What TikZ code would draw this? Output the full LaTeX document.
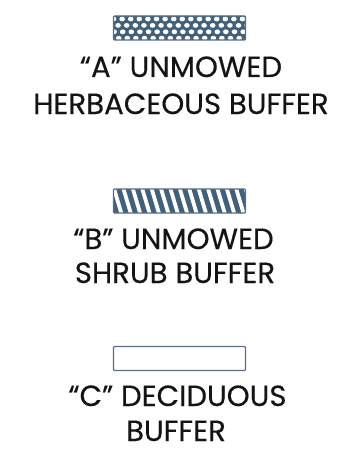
\documentclass[tikz,border=0pt]{standalone}
\usepackage{fontspec}
\setmainfont[FakeBold=0.3]{Poppins}
\usetikzlibrary{calc}
\definecolor{swfill}{RGB}{66,96,122}
\definecolor{swedge}{RGB}{90,110,130}
\definecolor{txt}{RGB}{20,20,20}
\begin{document}
\begin{tikzpicture}[x=1pt,y=-1pt,
  lbl/.style={anchor=base,inner sep=0pt,text=txt,font=\fontsize{29.2}{29.2}\selectfont},
  swatch/.style={draw=swedge,line width=1.1pt,rounded corners=1pt,minimum width=132pt,minimum height=24pt,inner sep=0pt}]
\useasboundingbox[fill=white] (0,0) rectangle (363,460);
% swatch A: dotted
\node[swatch,fill=swfill,path picture={
  \foreach \i in {-2,...,18} \foreach \j in {0,...,3}
    \fill[white] ($(path picture bounding box.north west)+({\i*8.6+\j*4.6},{3+\j*6.4})$) ellipse (2.8pt and 2.4pt);
}] (sa) at (179.5,28) {};
% swatch B: stripes
\node[swatch,fill=swfill,path picture={
  \foreach \i in {-2,...,16}
    \draw[white,line width=3.8pt] ($(path picture bounding box.north west)+({\i*9.4},-2)$) -- ++(9,30);
}] (sb) at (179.5,201) {};
% swatch C: plain
\node[swatch,fill=white] (sc) at (179.5,358.5) {};
% labels
\node[lbl] (a1) at (181,77) {“A” UNMOWED};
\node[lbl] (a2) at (181,114) {HERBACEOUS BUFFER};
\node[lbl] (b1) at (173.5,249) {“B” UNMOWED};
\node[lbl] (b2) at (175,283) {SHRUB BUFFER};
\node[lbl] (c1) at (177.5,406) {“C” DECIDUOUS};
\node[lbl] (c2) at (176,441) {BUFFER};
\end{tikzpicture}
\end{document}
